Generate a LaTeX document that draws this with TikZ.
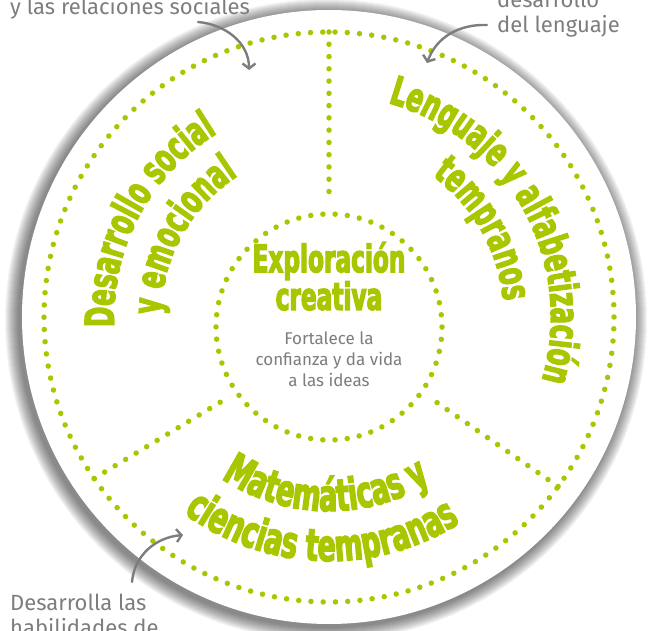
\documentclass[tikz,border=0pt]{standalone}
\usepackage{fontspec}
\usetikzlibrary{positioning,arrows.meta,decorations.text}
\newfontfamily\headfont{DejaVu Sans Condensed Bold}[FakeStretch=0.68, FakeBold=3]
\newfontfamily\handfont{Fira Sans}
\definecolor{leafgreen}{RGB}{170,198,0}
\definecolor{notegray}{RGB}{125,125,125}

\begin{document}
\begin{tikzpicture}[x=1pt, y=1pt,
    dotline/.style={leafgreen, line width=5.5pt, line cap=round, dash pattern=on 0pt off 12.27pt},
    curvetext/.style 2 args={decorate, decoration={text along path, text align=center, text color=leafgreen,
        text={|\headfont\fontsize{#1}{#1}\selectfont|#2}}},
    title/.style={leafgreen, font=\headfont\fontsize{38}{35}\selectfont, align=center, inner sep=0pt},
    blurb/.style={notegray, font=\handfont\fontsize{17}{21.5}\selectfont, align=center, inner sep=0pt},
    note/.style={notegray, font=\handfont\fontsize{22}{25}\selectfont, align=left, inner sep=0pt, anchor=base west},
    bendarrow/.style={notegray, line width=2.4pt, line cap=round, -{Straight Barb[length=5pt, width=13pt]}}
]
\useasboundingbox (0,0) rectangle (651,630);
\clip (0,0) rectangle (651,630);

% centres: outer ring and inner ring
\coordinate (c) at (329,313);
\coordinate (ci) at (329,303);
\coordinate (shc) at (326,310);

% soft shadow under the white disk
\foreach \i in {1,...,14} {
    \fill[black, opacity=0.045] (shc) circle[radius=307+\i];
}
\fill[white] (c) circle[radius=307];

% dotted rings
\draw[dotline] (c) circle[radius=285];
\draw[dotline, dash pattern=on 0pt off 12.24pt] (ci) circle[radius=113];

% dotted dividers
\coordinate (top-out) at ([shift={(90:285)}]c);
\coordinate (top-in) at (329,435);
\coordinate (left-out) at ([shift={(214.5:285)}]c);
\coordinate (left-in) at ([shift={(215:121)}]ci);
\coordinate (right-out) at ([shift={(-36.5:285)}]c);
\coordinate (right-in) at ([shift={(-35:123)}]ci);
\draw[dotline] (top-out) -- (top-in);
\draw[dotline] (left-out) -- (left-in);
\draw[dotline] (right-out) -- (right-in);

% centre (base = last line)
\node[title, anchor=base] (explo) at (329,320) {Exploración\\creativa};
\node[blurb, anchor=base] (blurb) at (329,243) {Fortalece la\\confianza y da vida\\a las ideas};

% curved headings, left
\path[curvetext={40}{Desarrollo social}] ([shift={(212:215)}]c) arc[start angle=212, end angle=92, radius=215];
\path[curvetext={40}{y emocional}] ([shift={(211:168)}]c) arc[start angle=211, end angle=91, radius=168];

% curved headings, right
\path[curvetext={40}{Lenguaje y alfabetización}] ([shift={(99:222)}]c) arc[start angle=99, end angle=-41, radius=222];
\path[curvetext={40}{tempranos}] ([shift={(99.5:175)}]c) arc[start angle=99.5, end angle=-40.5, radius=175];

% curved headings, bottom
\path[curvetext={44}{Matemáticas y}] ([shift={(209:194)}]c) arc[start angle=209, end angle=329, radius=194];
\path[curvetext={44}{ciencias tempranas}] ([shift={(208:244)}]c) arc[start angle=208, end angle=328, radius=244];

% side notes (base = last line)
\node[note] (note-social) at (10,615) {y las relaciones sociales};
\node[note] (note-lang) at (497,597) {desarrollo\\del lenguaje};
\node[note] (note-math) at (10,-5) {Desarrolla las\\habilidades de};

% arrows from the notes
\coordinate (social-from) at (198,608);
\coordinate (social-to) at (249,560);
\coordinate (lang-from) at (487,605);
\coordinate (lang-to) at (427,567);
\coordinate (math-from) at (132,48);
\coordinate (math-to) at (183,95);
\draw[bendarrow] (social-from) to[out=-5, in=90] (social-to);
\draw[bendarrow] (lang-from) to[out=178, in=70] (lang-to);
\draw[bendarrow] (math-from) to[out=85, in=185] (math-to);

\end{tikzpicture}
\end{document}
